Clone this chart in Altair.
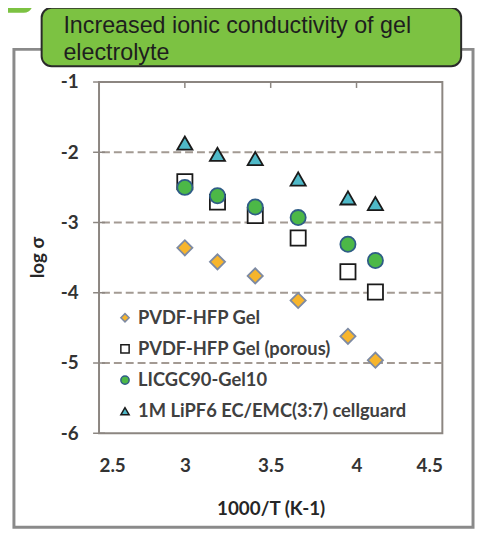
import altair as alt
import pandas as pd

# ---- data ----
X_VALUES = [3.0, 3.19, 3.41, 3.66, 3.95, 4.11]
SERIES = ["PVDF-HFP Gel", "PVDF-HFP Gel (porous)", "LICGC90-Gel10",
          "1M LiPF6 EC/EMC(3:7) cellguard"]
PVDF_HFP_GEL = [-3.36, -3.56, -3.76, -4.11, -4.62, -4.96]
PVDF_HFP_POROUS = [-2.42, -2.71, -2.90, -3.22, -3.70, -3.99]
LICGC90_GEL10 = [-2.50, -2.62, -2.78, -2.93, -3.31, -3.54]
LIPF6_CELLGUARD = [-1.87, -2.03, -2.09, -2.38, -2.65, -2.73]

X_TICKS = [2.5, 3.0, 3.5, 4.0, 4.5]
X_TOP_TICKS = [3.0, 3.5, 4.0]
Y_TICKS = [-1, -2, -3, -4, -5, -6]
Y_GRID = [-2, -3, -4, -5]
TITLE_LINES = ["Increased ionic conductivity of gel", "electrolyte"]
X_TITLE = "1000/T (K-1)"
Y_TITLE = "log σ"

SHAPES = ["diamond", "square", "circle", "triangle-up"]
FILLS = ["#f7b52c", "#ffffff", "#4cb847", "#4fb9c8"]
STROKES = ["#7d8aa3", "#1a1a1a", "#2f5d86", "#1a1a1a"]

W, H = 347, 355

rows = []
for name, vals in zip(SERIES, [PVDF_HFP_GEL, PVDF_HFP_POROUS, LICGC90_GEL10, LIPF6_CELLGUARD]):
    for x, y in zip(X_VALUES, vals):
        rows.append({"x": x, "y": y, "series": name})
df = pd.DataFrame(rows)

one = pd.DataFrame({"k": [0]})
xs = alt.Scale(domain=[2.5, 4.5], nice=False, zero=False)
ys = alt.Scale(domain=[-6, -1], nice=False, zero=False)

AX = alt.Axis(
    values=X_TICKS, labelExpr="toString(datum.value)", grid=False, ticks=False,
    tickSize=0, domain=False, labelFont="Lato", labelFontSize=19,
    labelFontWeight="bold", labelColor="#333333", labelBaseline="alphabetic",
    labelPadding=39, title=X_TITLE, titleFont="Lato", titleFontSize=19,
    titleFontWeight="bold", titleColor="#262626", titleBaseline="alphabetic",
    titleY=82)
AY = alt.Axis(
    values=Y_TICKS, labelExpr="toString(datum.value)", grid=False, ticks=False,
    tickSize=0, domain=False, labelFont="Lato", labelFontSize=19,
    labelFontWeight="bold", labelColor="#333333", labelPadding=21,
    title=Y_TITLE, titleFont="Lato", titleFontSize=19, titleFontWeight="bold",
    titleColor="#262626", titleBaseline="alphabetic", titleX=-56, titleY=177)

frame = alt.Chart(one).mark_rect(fill=None, stroke="#8a8a8a", strokeWidth=3).encode(
    x=alt.value(-86), x2=alt.value(378), y=alt.value(-33), y2=alt.value(450))

tab = alt.Chart(one).mark_rect(fill="#7cc242", cornerRadiusBottomRight=9).encode(
    x=alt.value(-108), x2=alt.value(-67), y=alt.value(-88), y2=alt.value(-70))

title_box = alt.Chart(one).mark_rect(fill="#7cc242", stroke="#2a2a2a", strokeWidth=2,
                                     cornerRadius=10).encode(
    x=alt.value(-58), x2=alt.value(366), y=alt.value(-75), y2=alt.value(-16))

title_text = alt.Chart(one).mark_text(align="left", baseline="alphabetic",
                                      font="Liberation Sans", fontSize=23.5,
                                      lineHeight=28, color="#1e1e1e").encode(
    x=alt.value(-36), y=alt.value(-50), text=alt.value(TITLE_LINES))

grid = alt.Chart(pd.DataFrame({"y": Y_GRID})).mark_rule(
    stroke="#a39a93", strokeWidth=2, strokeDash=[8, 4]).encode(
    y=alt.Y("y:Q", scale=ys, axis=AY))

yticks = alt.Chart(pd.DataFrame({"y": Y_TICKS})).mark_rule(
    stroke="#8c8681", strokeWidth=1.5).encode(
    y=alt.Y("y:Q", scale=ys, axis=AY), x=alt.value(-6), x2=alt.value(6))

xticks = alt.Chart(pd.DataFrame({"x": X_TOP_TICKS})).mark_rule(
    stroke="#8c8681", strokeWidth=1.5).encode(
    x=alt.X("x:Q", scale=xs, axis=AX), y=alt.value(0), y2=alt.value(6))

legend = alt.Legend(orient="none", legendX=17, legendY=229, title=None,
                    labelFont="Lato", labelFontSize=18.5, labelFontWeight="bold",
                    labelColor="#404040", labelLimit=0, symbolSize=70,
                    symbolStrokeWidth=1.5, rowPadding=12.5, labelOffset=4, padding=0)

points = alt.Chart(df).mark_point(size=235, strokeWidth=1.8, opacity=1).encode(
    x=alt.X("x:Q", scale=xs, axis=AX),
    y=alt.Y("y:Q", scale=ys, axis=AY),
    shape=alt.Shape("series:N", scale=alt.Scale(domain=SERIES, range=SHAPES), legend=legend),
    fill=alt.Fill("series:N", scale=alt.Scale(domain=SERIES, range=FILLS), legend=legend),
    stroke=alt.Stroke("series:N", scale=alt.Scale(domain=SERIES, range=STROKES), legend=legend),
    order=alt.Order("ord:Q"),
).transform_calculate(ord="indexof(" + str(SERIES) + ", datum.series)")

chart = alt.layer(frame, tab, title_box, title_text, grid, yticks, xticks, points).properties(
    width=W, height=H,
    padding={"left": 92, "top": 72, "right": 33, "bottom": 98},
    autosize=alt.AutoSizeParams(type="none"),
    background="white",
).configure_view(stroke="#8c8681", strokeWidth=2)

chart.save("out.html", embed_options={"renderer": "svg", "actions": False})
